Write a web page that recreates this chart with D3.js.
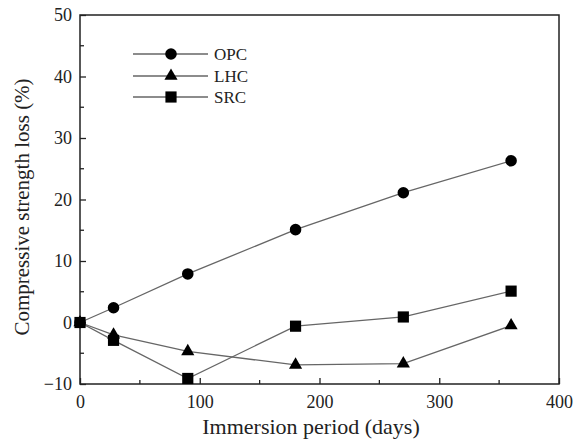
<!DOCTYPE html>
<html>
<head>
<meta charset="utf-8">
<script src="https://cdn.jsdelivr.net/npm/d3@7"></script>
<style>
body { margin: 0; background: #fff; }
svg { font-family: "Liberation Serif", "Times New Roman", serif; }
</style>
</head>
<body>
<svg width="573" height="439"></svg>
<script>
const days = [0, 28, 90, 180, 270, 360];
const opc = [0, 2.4, 7.9, 15.1, 21.1, 26.3];
const lhc = [0, -2.0, -4.7, -6.9, -6.7, -0.5];
const src = [0, -2.9, -9.1, -0.6, 0.9, 5.1];
const seriesNames = ["OPC", "LHC", "SRC"];
const xTicks = [0, 100, 200, 300, 400];
const yTicks = [-10, 0, 10, 20, 30, 40, 50];

const margin = {top: 15, right: 14, bottom: 55, left: 80};
const width = 573, height = 439;
const svg = d3.select("svg");

const x = d3.scaleLinear().domain([0, 400]).range([margin.left, width - margin.right]);
const y = d3.scaleLinear().domain([-10, 50]).range([height - margin.bottom, margin.top]);

// frame
svg.append("rect")
    .attr("x", x(0)).attr("y", y(50))
    .attr("width", x(400) - x(0)).attr("height", y(-10) - y(50))
    .attr("fill", "none").attr("stroke", "#222").attr("stroke-width", 1.5);

// inward ticks
const xAxis = d3.axisBottom(x).tickValues(xTicks).tickSizeInner(-6).tickSizeOuter(0).tickPadding(11);
const yAxis = d3.axisLeft(y).tickValues(yTicks).tickSizeInner(-6).tickSizeOuter(0).tickPadding(8);

const gx = svg.append("g").attr("transform", `translate(0,${y(-10)})`).call(xAxis);
const gy = svg.append("g").attr("transform", `translate(${x(0)},0)`).call(yAxis);
[gx, gy].forEach(g => {
    g.select(".domain").remove();
    g.selectAll("line").attr("stroke", "#222").attr("stroke-width", 1.3);
    g.selectAll("text").attr("font-size", 18).attr("fill", "#222")
        .style("font-family", "Liberation Serif");
});

// minor ticks
svg.append("g").selectAll("line").data([50, 150, 250, 350]).join("line")
    .attr("x1", d => x(d)).attr("x2", d => x(d))
    .attr("y1", y(-10)).attr("y2", y(-10) - 4)
    .attr("stroke", "#222").attr("stroke-width", 1.3);
svg.append("g").selectAll("line").data([-5, 5, 15, 25, 35, 45]).join("line")
    .attr("x1", x(0)).attr("x2", x(0) + 4)
    .attr("y1", d => y(d)).attr("y2", d => y(d))
    .attr("stroke", "#222").attr("stroke-width", 1.3);

// axis titles
svg.append("text")
    .attr("x", 311).attr("y", 434)
    .attr("text-anchor", "middle").attr("font-size", 22).attr("fill", "#222")
    .text("Immersion period (days)");
svg.append("text")
    .attr("transform", `translate(29,207) rotate(-90)`)
    .attr("text-anchor", "middle").attr("font-size", 21).attr("fill", "#222")
    .text("Compressive strength loss (%)");

const line = d3.line().x(d => x(d[0])).y(d => y(d[1]));
const allSeries = [opc, lhc, src];
const shapes = [d3.symbolCircle, d3.symbolTriangle, d3.symbolSquare];
const sizes = [105, 75, 125];

allSeries.forEach((vals, i) => {
    const pts = days.map((d, j) => [d, vals[j]]);
    svg.append("path").datum(pts)
        .attr("d", line).attr("fill", "none")
        .attr("stroke", "#666").attr("stroke-width", 1.3);
    svg.append("g").selectAll("path").data(pts).join("path")
        .attr("transform", d => `translate(${x(d[0])},${y(d[1])})`)
        .attr("d", d3.symbol().type(shapes[i]).size(sizes[i]))
        .attr("fill", "#000");
});

// legend
const legY = [54, 76, 97];
seriesNames.forEach((name, i) => {
    svg.append("line")
        .attr("x1", 133).attr("x2", 208)
        .attr("y1", legY[i]).attr("y2", legY[i])
        .attr("stroke", "#666").attr("stroke-width", 1.3);
    svg.append("path")
        .attr("transform", `translate(171,${legY[i]})`)
        .attr("d", d3.symbol().type(shapes[i]).size(sizes[i]))
        .attr("fill", "#000");
    svg.append("text")
        .attr("x", 214).attr("y", legY[i] + 5.5)
        .attr("font-size", 17).attr("fill", "#222")
        .text(name);
});
</script>
</body>
</html>
